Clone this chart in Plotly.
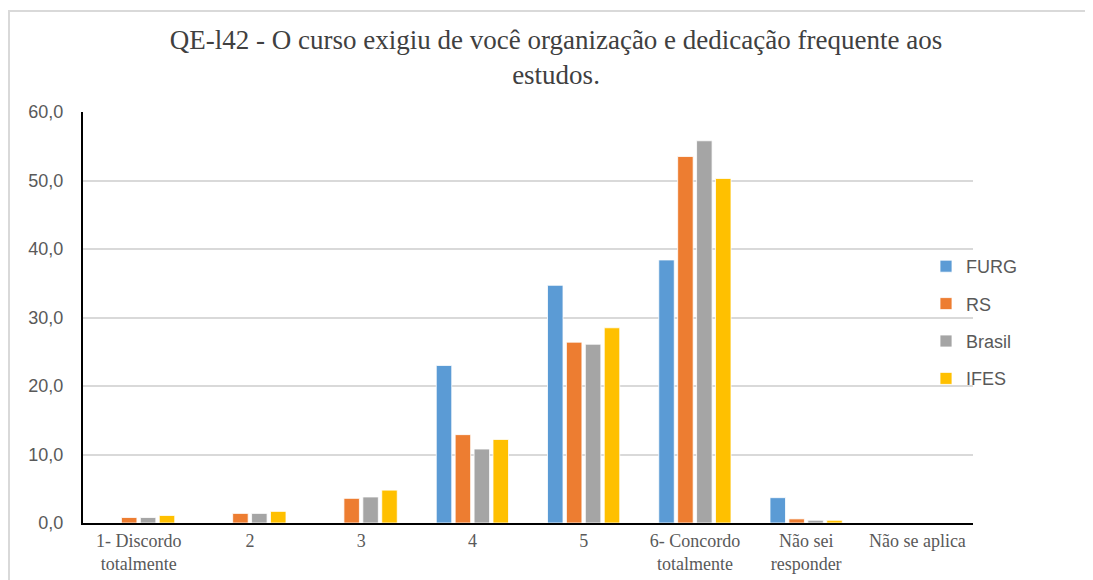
import plotly.graph_objects as go

categories = ["1- Discordo<br>totalmente", "2", "3", "4", "5",
              "6- Concordo<br>totalmente", "Não sei<br>responder", "Não se aplica"]
series_names = ["FURG", "RS", "Brasil", "IFES"]
furg = [0.0, 0.0, 0.0, 23.0, 34.7, 38.4, 3.7, 0.0]
rs = [0.8, 1.4, 3.6, 12.9, 26.4, 53.5, 0.6, 0.0]
brasil = [0.8, 1.4, 3.8, 10.8, 26.1, 55.8, 0.4, 0.0]
ifes = [1.1, 1.7, 4.8, 12.2, 28.5, 50.3, 0.4, 0.0]
colors = ["#5B9BD5", "#ED7D31", "#A5A5A5", "#FFC000"]
y_ticks = [0, 10, 20, 30, 40, 50, 60]

fig = go.Figure()
for name, vals, col in zip(series_names, [furg, rs, brasil, ifes], colors):
    fig.add_trace(go.Bar(
        x=categories, y=vals, name=name, legendgroup=name,
        marker=dict(color=col, line=dict(color="white", width=0.8)),
    ))

# the page body adds an 8px offset
W, H = 1085, 572
ml, mr, mt, mb = 75, 120, 104, 57
pw, ph = W - ml - mr, H - mt - mb

fig.update_layout(
    width=W, height=H,
    margin=dict(l=ml, r=mr, t=mt, b=mb, autoexpand=False),
    paper_bgcolor="white", plot_bgcolor="white",
    separators=",.",
    barmode="group", bargap=0.32, bargroupgap=0.18,
    title=dict(
        text="QE-l42 - O curso exigiu de você organização e dedicação frequente aos<br>estudos.",
        x=548 / W, xref="container", xanchor="center",
        y=1 - 41 / H, yref="container", yanchor="top",
        font=dict(family="Liberation Serif", size=27, color="#404040"),
    ),
    legend=dict(
        x=(918 - ml) / pw, xanchor="left",
        y=1 - (240 - mt) / ph, yanchor="top",
        font=dict(family="Liberation Sans", size=18, color="#595959"),
        tracegroupgap=11, bgcolor="rgba(0,0,0,0)",
    ),
    xaxis=dict(
        showline=True, linecolor="black", linewidth=2,
        tickfont=dict(family="Liberation Serif", size=18, color="#595959"),
        ticks="", showgrid=False, automargin=False,
    ),
    yaxis=dict(
        range=[0, 60], tickvals=y_ticks, tickformat=".1f",
        showline=True, linecolor="black", linewidth=2,
        gridcolor="#D9D9D9", gridwidth=1.5,
        tickfont=dict(family="Liberation Sans", size=18, color="#595959"),
        ticks="", ticklabelstandoff=14, zeroline=False, automargin=False,
    ),
    showlegend=True,
)

# outer chart frame
fig.add_shape(type="rect", xref="paper", yref="paper",
              x0=(1 - ml) / pw, x1=(1100 - ml) / pw,
              y0=-(600 - H + mb) / ph, y1=1 + (mt - 3) / ph,
              line=dict(color="#D9D9D9", width=2), fillcolor="rgba(0,0,0,0)",
              layer="below")

fig.write_html("out.html")
